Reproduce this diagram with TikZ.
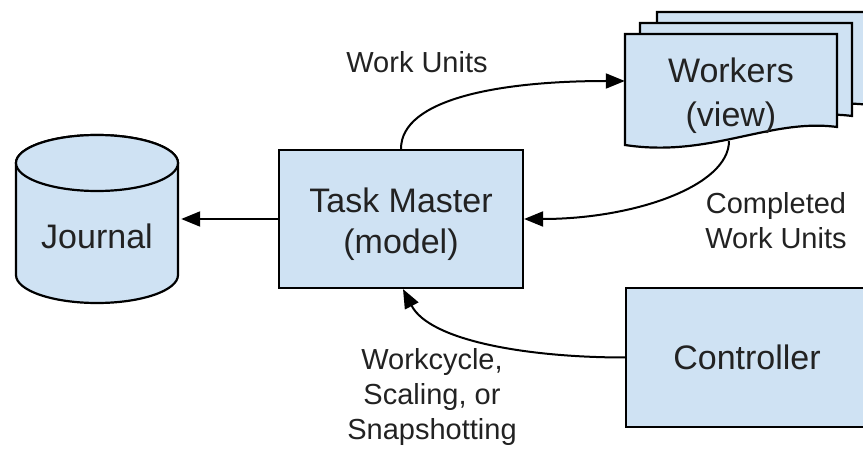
\documentclass[tikz,border=0pt]{standalone}
\usepackage{fontspec}
\setmainfont{Liberation Sans}
\usetikzlibrary{arrows.meta}
\definecolor{boxfill}{HTML}{CFE2F3}
\definecolor{ink}{HTML}{222222}
\begin{document}
\begin{tikzpicture}[x=1pt,y=-1pt,
  shapebox/.style={draw=black, line width=2.2pt, fill=boxfill},
  bigtxt/.style={font=\fontsize{34}{41}\selectfont, text=ink, align=center, inner sep=0pt},
  smalltxt/.style={font=\fontsize{29}{35}\selectfont, text=ink, align=center, inner sep=0pt},
  conn/.style={line width=2pt, -{Triangle[length=19pt,width=15pt]}}]
\useasboundingbox (0,0) rectangle (863,449);
\begin{scope}
\clip (0,0) rectangle (863,449);

% Journal cylinder
\path[shapebox] (16,163) -- (16,275)
  arc[start angle=180, end angle=0, x radius=81, y radius=28] -- (178,163)
  arc[start angle=0, end angle=-180, x radius=81, y radius=28] -- cycle;
\path[shapebox] (97,163) ellipse[x radius=81, y radius=28];
\node[bigtxt, minimum width=168pt, minimum height=168pt, text height=60pt, text depth=0pt] (J) at (97,219) {Journal};

% Task Master
\node[shapebox, minimum width=244pt, minimum height=138pt] (TM) at (401,219) {};
\node[bigtxt] (TMtext) at (401,224) {Task Master\\(model)};

% Workers stacked documents
\foreach \dx/\dy in {32/-22, 15/-11, 0/0}{
  \begin{scope}[shift={(\dx,\dy)}]
    \path[shapebox] (625,34) -- (837,34) -- (837,127)
      .. controls (770,118) and (710,158) .. (625,145) -- cycle;
  \end{scope}
}
\node[minimum width=212pt, minimum height=112pt, inner sep=0pt] (W) at (731,90) {};
\node[bigtxt, font=\fontsize{34}{44}\selectfont] (Wtext) at (731,96) {Workers\\(view)};
\coordinate (wbot) at (729,141);

% Controller
\node[shapebox, bigtxt, minimum width=242pt, minimum height=139pt] (C) at (747,357.5) {Controller};

% connectors
\draw[conn] (TM.west) -- (J.east);
\draw[conn] (TM.north) .. controls +(0,-50) and +(-125,0) .. ([yshift=9pt]W.west);
\draw[conn] (wbot) .. controls +(0,45) and +(110,0) .. (TM.east);
\draw[conn] (C.west) .. controls +(-96,0) and +(27,52) .. ([xshift=2pt]TM.south);

% labels
\node[smalltxt, anchor=base] (lwu) at (417,73) {Work Units};
\node[smalltxt] (lcw) at (776,221) {Completed\\Work Units};
\node[smalltxt] (lwc) at (432,397) {Workcycle,\\Scaling, or\\Snapshotting};
\end{scope}
\end{tikzpicture}
\end{document}
